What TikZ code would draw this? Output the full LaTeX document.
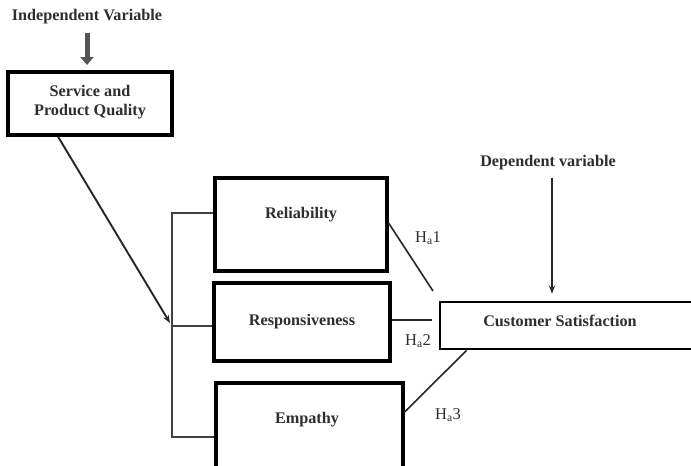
\documentclass[tikz,border=0pt]{standalone}
\usepackage{fontspec}
\setmainfont{Liberation Serif}
\usetikzlibrary{arrows.meta}
\definecolor{txt}{HTML}{2E2E2E}
\definecolor{grayarrow}{HTML}{555555}
\begin{document}
\begin{tikzpicture}[x=1pt,y=-1pt,
  box/.style={draw=black, line width=3.2pt, inner sep=0pt, fill=white},
  boxtext/.style={font=\bfseries\fontsize{16.2}{19}\selectfont, text=txt, align=center, inner sep=0pt},
  hlabel/.style={font=\fontsize{16.5}{19}\selectfont, text=txt, inner sep=0pt},
  conn/.style={line width=1.6pt, draw=black!85},
  brk/.style={line width=1.4pt, draw=black!75},
  arr/.style={line width=1.6pt, draw=black!85, -{Stealth[length=8pt,width=6pt]}},
  bigarr/.style={line width=5pt, draw=grayarrow, -{Triangle[length=8pt,width=13pt]}}]
\useasboundingbox (0,0) rectangle (691,466);
\clip (0,0) rectangle (691,466);
\fill[white] (0,0) rectangle (691,466);

% boxes
\node[box, minimum width=164pt, minimum height=63pt] (sq) at (90,103.5) {};
\node[boxtext] (sqtxt) at (90,102) {Service and\\Product Quality};

\node[box, minimum width=172pt, minimum height=93pt] (rel) at (301,224.5) {};
\node[boxtext] (reltxt) at (301,215) {Reliability};

\node[box, minimum width=176pt, minimum height=78pt] (resp) at (302,322) {};
\node[boxtext] (resptxt) at (302,322) {Responsiveness};

\node[box, minimum width=187pt, minimum height=100pt] (emp) at (309.5,433) {};
\node[boxtext] (emptxt) at (307,420) {Empathy};

\node[box, line width=2.8pt, minimum width=256pt, minimum height=47pt] (cs) at (568,325.5) {};
\node[boxtext] (cstxt) at (560,321) {Customer Satisfaction};

% headings
\node[boxtext] (indep) at (87,17) {Independent Variable};
\node[boxtext] (dep) at (548,163) {Dependent variable};

% heading arrows
\draw[bigarr] (indep.south |- 0,33) -- (indep.south |- 0,65);
\coordinate (darr) at (552,0);
\draw[arr] (dep.south -| darr) ++(0,7) -- ([yshift=7pt]cs.north -| darr);

% from service quality to junction
\coordinate (j) at (170,323);
\draw[arr, line width=1.9pt] ([xshift=-32pt]sq.south) -- (j);

% bracket
\coordinate (b1) at (172,213);
\coordinate (b3) at (172,437);
\coordinate (b2) at (172,326);
\draw[brk] (rel.west |- b1) -- (b1) -- (b3) -- (emp.west |- b3);
\draw[brk] (b2) -- (resp.west |- b2);

% hypothesis lines
\coordinate (h1) at (433,291);
\coordinate (h2) at (432,320);
\coordinate (h3s) at (0,412);
\draw[conn] ([yshift=1.5pt]rel.east) -- (h1);
\draw[conn] (resp.east |- h2) -- (h2);
\draw[conn] (emp.east |- h3s) -- ([xshift=28pt]cs.south west);

% hypothesis labels
\node[hlabel] (ha1) at (428,238) {H\textsubscript{a}1};
\node[hlabel] (ha2) at (418,341) {H\textsubscript{a}2};
\node[hlabel] (ha3) at (448,415) {H\textsubscript{a}3};
\end{tikzpicture}
\end{document}
